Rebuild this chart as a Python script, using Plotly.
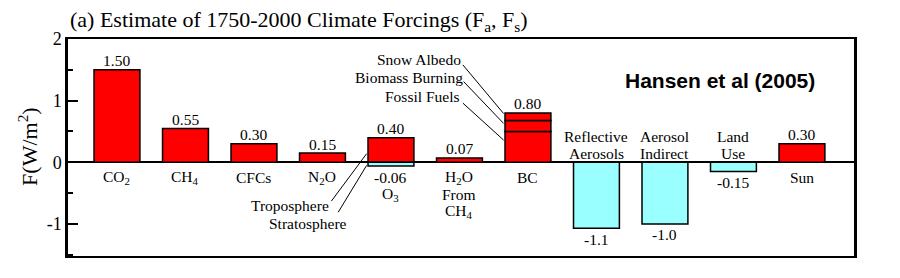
import plotly.graph_objects as go

# ---------------- data ----------------
categories = ["CO2", "CH4", "CFCs", "N2O", "O3", "H2O from CH4", "BC",
              "Reflective Aerosols", "Aerosol Indirect", "Land Use", "Sun"]
cat_labels = [["CO<sub>2</sub>"], ["CH<sub>4</sub>"], ["CFCs"], ["N<sub>2</sub>O"], ["O<sub>3</sub>"],
              ["H<sub>2</sub>O", "From", "CH<sub>4</sub>"], ["BC"],
              ["Reflective", "Aerosols"], ["Aerosol", "Indirect"], ["Land", "Use"], ["Sun"]]
positive_vals = [1.50, 0.55, 0.30, 0.15, 0.40, 0.07, None, None, None, None, 0.30]
negative_vals = [None, None, None, None, -0.06, None, None, -1.07, -1.00, -0.15, None]
bc_parts = ["Fossil Fuels", "Biomass Burning", "Snow Albedo"]
bc_vals = [0.50, 0.18, 0.12]
value_labels = ["1.50", "0.55", "0.30", "0.15", "0.40", "0.07", "0.80",
                "-1.1", "-1.0", "-0.15", "0.30"]
o3_strat_label = "-0.06"
y_ticks = [-1, 0, 1, 2]
y_ticktext = ["-1", "0", "1", "2"]

RED = "#FF0000"
CYAN = "#99FFFF"
SERIF = "Liberation Serif, Times New Roman, serif"
BAR_W = 0.67
LINE_H = 17

xs = list(range(len(categories)))
bc_i = categories.index("BC")
o3_i = categories.index("O3")

fig = go.Figure()
fig.add_trace(go.Bar(x=xs, y=positive_vals, width=BAR_W, marker=dict(color=RED, line=dict(color="black", width=1.5)),
                     showlegend=False, hoverinfo="skip"))
fig.add_trace(go.Bar(x=xs, y=negative_vals, width=BAR_W, marker=dict(color=CYAN, line=dict(color="black", width=1.5)),
                     showlegend=False, hoverinfo="skip"))
bases = [sum(bc_vals[:k]) for k in range(len(bc_vals))]
fig.add_trace(go.Bar(x=[bc_i] * len(bc_vals), y=bc_vals, base=bases, width=BAR_W,
                     marker=dict(color=RED, line=dict(color="black", width=1.5)),
                     showlegend=False, hoverinfo="skip"))

ann = []
lab_font = dict(family=SERIF, size=15.5, color="black")


def txt(x, y, text, yshift=0, xanchor="center", **kw):
    ann.append(dict(x=x, y=y, text=text, showarrow=False, xanchor=xanchor, yanchor="middle",
                    yshift=yshift, borderpad=0, font=lab_font, **kw))


for i in xs:
    pv = positive_vals[i]
    nv = negative_vals[i]
    if i == bc_i:
        pv = sum(bc_vals)
    if pv is not None:
        txt(i, pv, value_labels[i], yshift=9)
        lines = cat_labels[i]
        if nv is not None:  # O3: stratospheric part below the zero line
            lines = [o3_strat_label] + lines
        for k, line in enumerate(lines):
            txt(i, 0, line, yshift=-15 - LINE_H * k)
    else:
        txt(i, nv, value_labels[i], yshift=-11)
        lines = cat_labels[i]
        for k, line in enumerate(reversed(lines)):
            txt(i, 0, line, yshift=8.5 + LINE_H * k)

# BC component labels with leader lines
bc_left = bc_i - BAR_W / 2 - 0.02
bc_text_pos = [(5.02, 1.07), (5.06, 1.38), (5.04, 1.66)]
bc_line_start = [(5.05, 0.96), (5.06, 1.31), (5.05, 1.58)]
bc_line_end_y = [0.36, 0.63, 0.79]
for name, (tx, ty), (sx, sy), ey in zip(bc_parts, bc_text_pos, bc_line_start, bc_line_end_y):
    txt(tx, ty, name, xanchor="right")
    fig.add_shape(type="line", x0=sx, y0=sy, x1=bc_left, y1=ey, line=dict(color="black", width=1))

# O3 labels
o3_left = o3_i - BAR_W / 2 - 0.02
txt(3.11, -0.70, "Troposphere", xanchor="right")
txt(3.37, -0.99, "Stratosphere", xanchor="right")
fig.add_shape(type="line", x0=3.13, y0=-0.63, x1=o3_left, y1=0.14, line=dict(color="black", width=1))
fig.add_shape(type="line", x0=3.23, y0=-0.81, x1=o3_left, y1=-0.05, line=dict(color="black", width=1))

# title, y label, credit
ann.append(dict(xref="paper", yref="paper", x=0, y=1.083, xanchor="left", yanchor="middle", showarrow=False,
                text="(a) Estimate of 1750-2000 Climate Forcings (F<sub>a</sub>, F<sub>s</sub>)",
                font=dict(family=SERIF, size=22, color="black")))
ann.append(dict(xref="paper", yref="paper", x=-0.051, y=0.507, xanchor="center", yanchor="middle", showarrow=False,
                textangle=-90, text="F(W/m<sup>2</sup>)", font=dict(family=SERIF, size=22, color="black")))
ann.append(dict(xref="paper", yref="paper", x=0.8295, y=0.811, xanchor="center", yanchor="middle", showarrow=False,
                text="<b>Hansen et al (2005)</b>", font=dict(family="Liberation Sans, Arial, sans-serif", size=21, color="black")))

fig.update_layout(
    width=900, height=278, margin=dict(l=68, r=46, t=39, b=22),
    paper_bgcolor="white", plot_bgcolor="white", barmode="overlay",
    annotations=ann, showlegend=False,
)
fig.update_xaxes(range=[-0.715, 10.76], showline=True, linecolor="black", linewidth=2, mirror=True,
                 showticklabels=False, ticks="", showgrid=False, zeroline=False)
fig.update_yaxes(range=[-1.52, 2], showline=True, linecolor="black", linewidth=2.5, mirror=True,
                 tickvals=y_ticks, ticktext=y_ticktext, ticks="inside", ticklen=10, tickwidth=2, tickcolor="black",
                 minor=dict(tickvals=[-1.5, -0.5, 0.5, 1.5], ticks="inside", ticklen=5, tickwidth=2, tickcolor="black"),
                 tickfont=dict(family=SERIF, size=18, color="black"), showgrid=False,
                 zeroline=True, zerolinecolor="black", zerolinewidth=1.5)

fig.write_html("out.html")
